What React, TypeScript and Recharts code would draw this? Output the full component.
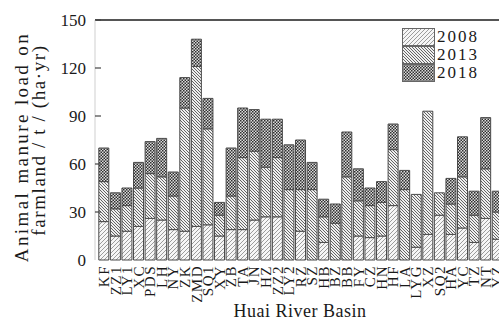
import React from 'react';
import { BarChart, Bar, XAxis, YAxis, Legend, ReferenceLine } from 'recharts';

// segment heights per basin (stacked: 2008 bottom, 2013 middle, 2018 top)
const categories = [
  'KF', 'ZZ1', 'LY1', 'XC', 'PDS', 'LH', 'NY', 'ZK', 'ZMD', 'SQ1', 'XY', 'ZB',
  'TA', 'JN', 'HZ', 'ZZ2', 'LY2', 'RZ', 'SZ', 'HB', 'BZ', 'BB', 'FY', 'CZ',
  'HN', 'HF', 'LA', 'LYG', 'XZ', 'SQ2', 'HA', 'YC', 'TZ', 'NT', 'YZ',
];
const load2008 = [
  24, 15, 18, 21, 26, 25, 19, 18, 21, 22, 15, 19,
  19, 25, 27, 27, 0, 18, 0, 11, 0, 0, 15, 14,
  15, 34, 0, 8, 16, 28, 16, 20, 11, 26, 13,
];
const load2013 = [
  25, 17, 16, 24, 28, 27, 21, 77, 100, 60, 13, 21,
  45, 43, 31, 37, 44, 26, 44, 16, 23, 52, 22, 20,
  21, 35, 44, 33, 77, 14, 19, 32, 17, 31, 17,
];
const load2018 = [
  21, 10, 11, 16, 20, 24, 15, 19, 17, 19, 8, 30,
  31, 26, 30, 24, 28, 31, 17, 11, 12, 28, 20, 11,
  13, 16, 12, 0, 0, 0, 16, 25, 15, 32, 13,
];
const years = ['2008', '2013', '2018'];
const yTicks = [0, 30, 60, 90, 120, 150];

const data = categories.map((name, i) => ({
  name,
  y2008: load2008[i],
  y2013: load2013[i],
  y2018: load2018[i],
}));

const SERIF = '"Liberation Serif", "Times New Roman", serif';
const AXIS_X = 95;

const Patterns = () => (
  <svg width={0} height={0} style={{ position: 'absolute' }}>
    <defs>
      <pattern id="p2008" patternUnits="userSpaceOnUse" width={4} height={4}>
        <rect width={4} height={4} fill="#f6f6f6" />
        <path d="M0,4 L4,0 M-1,1 L1,-1 M3,5 L5,3" stroke="#858585" strokeWidth={0.8} />
      </pattern>
      <pattern id="p2013" patternUnits="userSpaceOnUse" width={3} height={3}>
        <rect width={3} height={3} fill="#efefef" />
        <path d="M0,0 L3,3 M-1,2 L1,4 M2,-1 L4,1" stroke="#555" strokeWidth={0.9} />
      </pattern>
      <pattern id="p2018" patternUnits="userSpaceOnUse" width={3} height={3}>
        <rect width={3} height={3} fill="#dcdcdc" />
        <rect x={0} y={0} width={1.5} height={1.5} fill="#2e2e2e" />
        <rect x={1.5} y={1.5} width={1.5} height={1.5} fill="#2e2e2e" />
      </pattern>
    </defs>
  </svg>
);

const CategoryTick = (props: any) => {
  const { x, y, payload } = props;
  return (
    <text
      x={x}
      y={y}
      transform={`rotate(-90, ${x}, ${y})`}
      textAnchor="end"
      dy="0.35em"
      fontFamily={SERIF}
      fontSize={15}
      letterSpacing={1.5}
      fill="#1a1a1a"
    >
      {payload.value}
    </text>
  );
};

const ValueTick = (props: any) => {
  const { x, y, payload } = props;
  return (
    <g>
      {payload.value > 0 && (
        <line x1={AXIS_X} x2={AXIS_X + 6} y1={y} y2={y} stroke="#444" strokeWidth={1.2} />
      )}
      <text
        x={x}
        y={y}
        textAnchor="end"
        dy="0.35em"
        fontFamily={SERIF}
        fontSize={17}
        fill="#1a1a1a"
      >
        {payload.value}
      </text>
    </g>
  );
};

const renderYLabel = () => (
  <g fontFamily={SERIF} fontSize={19} fill="#1a1a1a">
    <text transform="translate(21,147) rotate(-90)" textAnchor="middle" dy="0.35em" letterSpacing={2.4}>
      Animal manure load on
    </text>
    <text transform="translate(38,140) rotate(-90)" textAnchor="middle" dy="0.35em" letterSpacing={1.6}>
      farmland / t / (ha·yr)
    </text>
  </g>
);

const renderXLabel = () => (
  <text
    x={300}
    y={317}
    textAnchor="middle"
    fontFamily={SERIF}
    fontSize={18}
    letterSpacing={0.5}
    fill="#1a1a1a"
  >
    Huai River Basin
  </text>
);

const LegendContent = () => (
  <div style={{ fontFamily: SERIF, fontSize: 17, letterSpacing: 2, color: '#1a1a1a' }}>
    {years.map((y) => (
      <div key={y} style={{ display: 'flex', alignItems: 'center', height: 18 }}>
        <svg width={34} height={18}>
          <rect x={0.5} y={0.5} width={32} height={17} fill={`url(#p${y})`} stroke="#666" />
        </svg>
        <span style={{ marginLeft: 1, lineHeight: '16px' }}>{y}</span>
      </div>
    ))}
  </div>
);

export default function App() {
  return (
    <div style={{ position: 'absolute', left: 0, top: 0, width: 499, height: 325, overflow: 'hidden', background: '#fff' }}>
      <Patterns />
      <BarChart
        width={505}
        height={325}
        data={data}
        margin={{ top: 20, right: 2, left: 0, bottom: 0 }}
        barCategoryGap="7%"
      >
        <XAxis
          dataKey="name"
          interval={0}
          height={65}
          axisLine={false}
          tickLine={false}
          tickSize={0}
          tickMargin={5}
          padding={{ left: 3, right: 0 }}
          tick={<CategoryTick />}
          label={renderXLabel}
        />
        <YAxis
          domain={[0, 150]}
          ticks={yTicks}
          width={AXIS_X}
          axisLine={{ stroke: '#cfcfcf' }}
          tickLine={false}
          tickSize={0}
          tickMargin={9}
          tick={<ValueTick />}
          label={renderYLabel}
        />
        <ReferenceLine y={150} stroke="#555" strokeWidth={2} />
        <Bar dataKey="y2008" name="2008" stackId="a" fill="url(#p2008)" stroke="#4a4a4a" strokeWidth={1} isAnimationActive={false} />
        <Bar dataKey="y2013" name="2013" stackId="a" fill="url(#p2013)" stroke="#4a4a4a" strokeWidth={1} isAnimationActive={false} />
        <Bar dataKey="y2018" name="2018" stackId="a" fill="url(#p2018)" stroke="#4a4a4a" strokeWidth={1} isAnimationActive={false} />
        <Legend
          layout="vertical"
          align="center"
          verticalAlign="middle"
          wrapperStyle={{ left: 402, top: 28, width: 'auto' }}
          content={<LegendContent />}
        />
      </BarChart>
    </div>
  );
}
